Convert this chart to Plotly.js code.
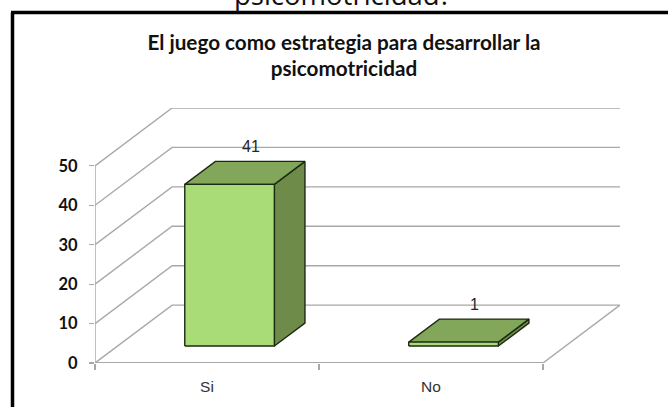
<!DOCTYPE html>
<html>
<head>
<meta charset="utf-8">
<script src="https://cdn.plot.ly/plotly-3.0.1.min.js"></script>
<style>html,body{margin:0;padding:0;background:#fff;overflow:hidden}#chart{width:668px;height:407px}</style>
</head>
<body>
<div id="chart"></div>
<script>
var categories = ["Si", "No"];
var seriesValues = [41, 1];
var yTicks = [0, 10, 20, 30, 40, 50];
var titleText = "El juego como estrategia para desarrollar la<br>psicomotricidad";
var clippedHeading = "psicomotricidad?";

// Oblique "3-D" projection expressed in axis units
var depthX = 0.344, depthY = 14.68;
var barWidth = 0.40, depthNear = 0.293, depthFar = 0.69;
var xMin = -0.5, xMax = categories.length - 0.5;

function P(x, v, d) { return [x + d * depthX, v + d * depthY]; }
function poly(points, opts) {
  return Object.assign({
    x: points.map(function (p) { return p[0]; }),
    y: points.map(function (p) { return p[1]; }),
    type: "scatter", mode: "lines", hoverinfo: "skip", showlegend: false, cliponaxis: false
  }, opts);
}

var gridColor = "#a8a8a8";
var traces = [];
// floor
traces.push(poly([P(xMin,0,0),P(xMin,0,1),P(xMax,0,1),P(xMax,0,0)], {line:{color:gridColor,width:1.4}}));
// side + back gridlines
yTicks.forEach(function (t) {
  if (t === 0) return;
  traces.push(poly([P(xMin,t,0),P(xMin,t,1),P(xMax,t,1)], {line:{color:gridColor,width:1.4}}));
});
// value axis and category axis lines
traces.push(poly([P(xMin,0,0),P(xMin,yTicks[yTicks.length-1],0)], {line:{color:gridColor,width:1.4}}));
traces.push(poly([P(xMin,0,0),P(xMax,0,0)], {line:{color:gridColor,width:1.8}}));

// bars
var outline = {color:"#1c2a12", width:1.4};
categories.forEach(function (c, i) {
  var v = seriesValues[i], a = i - barWidth/2, b = i + barWidth/2, n = depthNear, f = depthFar;
  function face(pts, col) {
    traces.push(poly(pts.concat([pts[0]]), {fill:"toself", fillcolor:col, line:outline, name:c}));
  }
  face([P(b,0,n),P(b,0,f),P(b,v,f),P(b,v,n)], "#6E8B4A");
  face([P(a,v,n),P(b,v,n),P(b,v,f),P(a,v,f)], "#82A75B");
  face([P(a,0,n),P(b,0,n),P(b,v,n),P(a,v,n)], "#A9DC77");
});

var plotH = 255, plotW = 525;
var labels = categories.map(function (c, i) {
  var p = P(i, seriesValues[i], (depthNear + depthFar) / 2);
  return {x:p[0], y:p[1], xref:"x", yref:"y", text:String(seriesValues[i]), showarrow:false,
    xshift:6, yshift:26, font:{family:"Liberation Sans, Arial, sans-serif", size:16, color:"#262626"}};
});

var layout = {
  width:668, height:407, margin:{l:95, r:48, t:108, b:44},
  paper_bgcolor:"#fff", plot_bgcolor:"rgba(0,0,0,0)", showlegend:false,
  title:{text:titleText, x:344/668, xanchor:"center", y:1-49.5/407, yanchor:"middle",
    font:{family:"Lato, sans-serif", size:20.7, color:"#111", weight:700}},
  xaxis:{range:[xMin, xMax + depthX], tickmode:"array", tickvals:categories.map(function(c,i){return i;}),
    ticktext:categories, ticks:"", showgrid:false, zeroline:false, showline:false, fixedrange:true,
    ticklabelstandoff:12, tickfont:{family:"Liberation Sans, Arial, sans-serif", size:15.5, color:"#333"},
    minor:{tickmode:"array", tickvals:[-0.5,0.5,1.5], ticks:"outside", ticklen:6, tickcolor:gridColor, tickwidth:1.2, showgrid:false}},
  yaxis:{range:[0, yTicks[yTicks.length-1] + depthY], tickmode:"array", tickvals:yTicks, ticks:"outside", ticklen:5,
    tickcolor:gridColor, tickwidth:1.2, showgrid:false, zeroline:false, showline:false, fixedrange:true,
    ticklabelstandoff:8, tickfont:{family:"Lato, sans-serif", size:16.5, color:"#111", weight:700}},
  annotations:labels.concat([
    {xref:"paper", yref:"paper", x:(342.5-95)/plotW, y:1+(108-(-6))/plotH, xanchor:"center", yanchor:"middle", showarrow:false,
      text:clippedHeading, font:{family:"Open Sans, sans-serif", size:27.5, color:"#111"}}
  ]),
  shapes:[
    {type:"line", xref:"paper", yref:"paper", x0:(12.5-95)/plotW, x1:(12.5-95)/plotW, y0:(363-12.5)/plotH, y1:(363-420)/plotH, line:{color:"#000", width:3.5}},
    {type:"line", xref:"paper", yref:"paper", x0:(11-95)/plotW, x1:(680-95)/plotW, y0:(363-12.5)/plotH, y1:(363-12.5)/plotH, line:{color:"#000", width:3.5}}
  ]
};
Plotly.newPlot("chart", traces, layout, {displayModeBar:false, staticPlot:true});
</script>
</body>
</html>
